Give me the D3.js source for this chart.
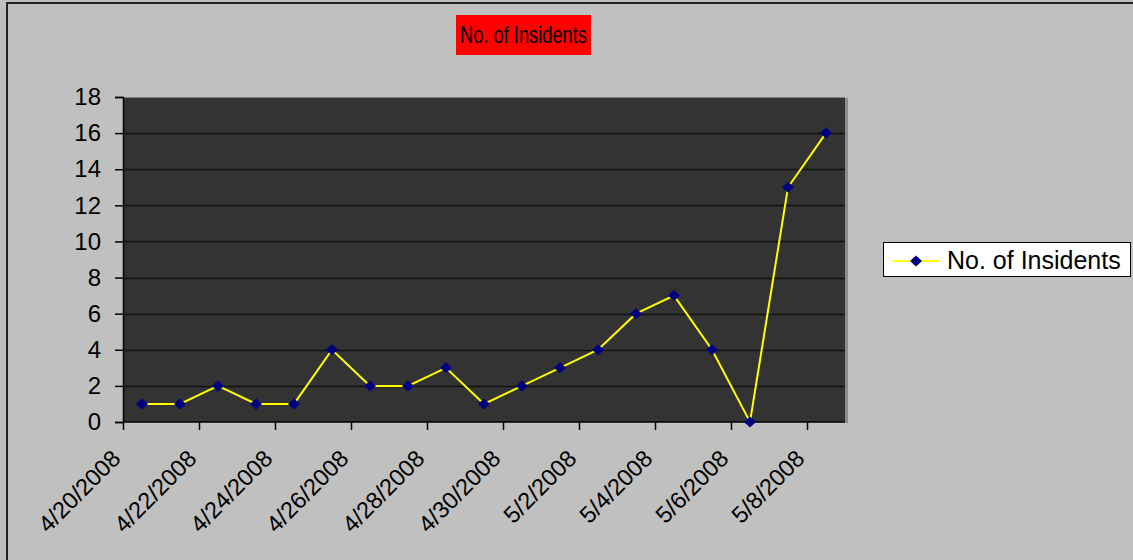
<!DOCTYPE html>
<html>
<head>
<meta charset="utf-8">
<script src="https://cdn.jsdelivr.net/npm/d3@7"></script>
<style>
  html, body { margin: 0; padding: 0; background: #c0c0c0; }
  svg { display: block; font-family: Arial, 'Liberation Sans', sans-serif; }
</style>
</head>
<body>
<div id="chart"></div>
<script>
const dates = ['4/20/2008', '4/21/2008', '4/22/2008', '4/23/2008', '4/24/2008', '4/25/2008',
    '4/26/2008', '4/27/2008', '4/28/2008', '4/29/2008', '4/30/2008', '5/1/2008', '5/2/2008',
    '5/3/2008', '5/4/2008', '5/5/2008', '5/6/2008', '5/7/2008', '5/8/2008'];
const incidents = [1, 1, 2, 1, 1, 4, 2, 2, 3, 1, 2, 3, 4, 6, 7, 4, 0, 13, 16];
const yTicks = [0, 2, 4, 6, 8, 10, 12, 14, 16, 18];
const seriesName = 'No. of Insidents';
const titleText = 'No. of Insidents';

function renderChart() {
    const W = 1133, H = 560;
    const plot = { left: 123, right: 845, top: 97, bottom: 422 };

    const svg = d3.select('#chart').append('svg')
        .attr('width', W)
        .attr('height', H);

    // chart area background + border
    svg.append('rect')
        .attr('x', 0).attr('y', 0).attr('width', W).attr('height', H)
        .style('fill', '#c0c0c0');
    svg.append('rect')
        .attr('x', 7).attr('y', 3).attr('width', W + 20).attr('height', H + 20)
        .style('fill', 'none')
        .style('stroke', '#222')
        .style('stroke-width', 2);

    const x = d3.scaleBand()
        .domain(dates)
        .range([plot.left, plot.right])
        .padding(0);

    const y = d3.scaleLinear()
        .domain([0, 18])
        .range([plot.bottom, plot.top]);

    // plot area
    svg.append('rect')
        .attr('x', plot.right).attr('y', plot.top + 1)
        .attr('width', 3).attr('height', plot.bottom - plot.top)
        .style('fill', '#8c8c8c');
    svg.append('rect')
        .attr('x', plot.left).attr('y', plot.top)
        .attr('width', plot.right - plot.left).attr('height', plot.bottom - plot.top)
        .style('fill', '#333333');
    svg.append('line')
        .attr('x1', plot.left).attr('x2', plot.right)
        .attr('y1', plot.top + 0.5).attr('y2', plot.top + 0.5)
        .style('stroke', '#808080')
        .style('stroke-width', 1);

    // gridlines
    svg.append('g')
        .selectAll('line')
        .data(yTicks.filter(t => t > 0 && t < 18))
        .enter()
        .append('line')
        .attr('x1', plot.left).attr('x2', plot.right)
        .attr('y1', d => Math.round(y(d)) + 0.5)
        .attr('y2', d => Math.round(y(d)) + 0.5)
        .style('stroke', '#111')
        .style('stroke-width', 1.5);

    // y axis
    const yAxis = svg.append('g')
        .attr('transform', `translate(${plot.left},0)`)
        .call(d3.axisLeft(y).tickValues(yTicks).tickSize(8).tickPadding(14));
    yAxis.select('.domain').style('stroke', '#000').style('stroke-width', 1.5);
    yAxis.selectAll('.tick line').style('stroke', '#000').style('stroke-width', 1.5);
    yAxis.selectAll('text')
        .style('font-size', '24px')
        .style('font-family', 'Arial, Liberation Sans, sans-serif')
        .style('fill', '#000');

    // x axis: ticks every two categories at category edges
    const labelDates = dates.filter((d, i) => i % 2 === 0);
    const xAxis = svg.append('g')
        .attr('transform', `translate(0,${plot.bottom})`);
    xAxis.append('line')
        .attr('x1', plot.left).attr('x2', plot.right)
        .attr('y1', 0).attr('y2', 0)
        .style('stroke', '#000')
        .style('stroke-width', 1.5);
    xAxis.selectAll('.tick')
        .data(labelDates)
        .enter()
        .append('line')
        .attr('x1', d => Math.round(x(d)) + 0.5)
        .attr('x2', d => Math.round(x(d)) + 0.5)
        .attr('y1', 0).attr('y2', 8)
        .style('stroke', '#000')
        .style('stroke-width', 1.5);

    svg.append('g')
        .selectAll('text')
        .data(labelDates)
        .enter()
        .append('text')
        .attr('transform', d => `translate(${x(d) - 1},460) rotate(-45)`)
        .attr('text-anchor', 'end')
        .style('font-size', '23.5px')
        .style('fill', '#000')
        .text(d => d);

    // series
    const pts = dates.map((d, i) => ({ date: d, value: incidents[i] }));
    const line = d3.line()
        .x(d => x(d.date) + x.bandwidth() / 2)
        .y(d => y(d.value));

    svg.append('path')
        .datum(pts)
        .attr('d', line)
        .style('fill', 'none')
        .style('stroke', '#ffff00')
        .style('stroke-width', 2);

    const diamond = 'M0,-5.5L6,0L0,5.5L-6,0Z';
    svg.append('g')
        .selectAll('path')
        .data(pts)
        .enter()
        .append('path')
        .attr('transform', d => `translate(${x(d.date) + x.bandwidth() / 2},${y(d.value)})`)
        .attr('d', diamond)
        .style('fill', '#000080');

    // title
    svg.append('rect')
        .attr('x', 456).attr('y', 15).attr('width', 135).attr('height', 40)
        .style('fill', '#ff0000');
    svg.append('text')
        .attr('x', 460).attr('y', 43)
        .attr('textLength', 127)
        .attr('lengthAdjust', 'spacingAndGlyphs')
        .style('font-size', '24px')
        .style('fill', '#000')
        .text(titleText);

    // legend
    const lg = svg.append('g').attr('transform', 'translate(883,242)');
    lg.append('rect')
        .attr('x', 0.5).attr('y', 0.5).attr('width', 247).attr('height', 34)
        .style('fill', '#fff')
        .style('stroke', '#000')
        .style('stroke-width', 1);
    lg.append('line')
        .attr('x1', 10).attr('x2', 57).attr('y1', 19).attr('y2', 19)
        .style('stroke', '#ffff00')
        .style('stroke-width', 2);
    lg.append('path')
        .attr('transform', 'translate(33,19)')
        .attr('d', diamond)
        .style('fill', '#000080');
    lg.append('text')
        .attr('x', 64).attr('y', 27)
        .style('font-size', '25px')
        .style('fill', '#000')
        .text(seriesName);
}

renderChart();
</script>
</body>
</html>
